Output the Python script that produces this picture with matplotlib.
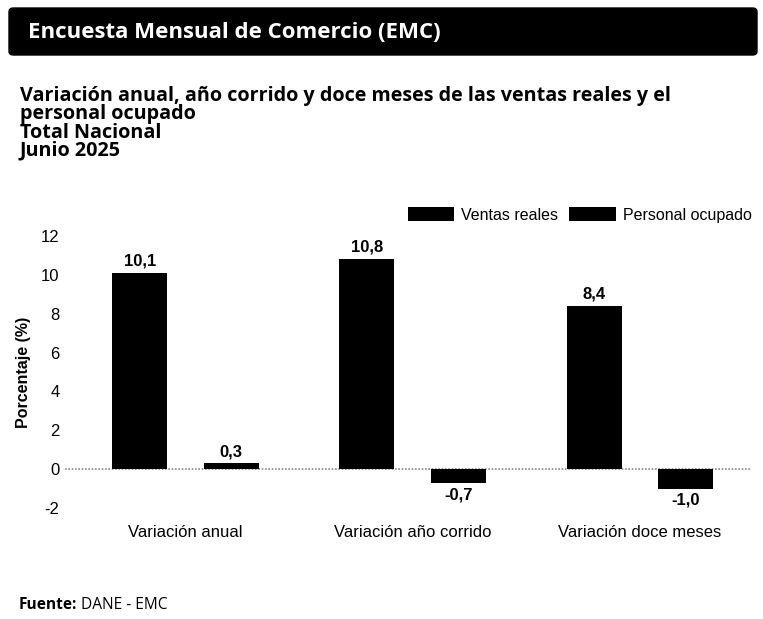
import numpy as np
import matplotlib.pyplot as plt
from matplotlib.patches import FancyBboxPatch

categorias = ["Variación anual", "Variación año corrido", "Variación doce meses"]
ventas_reales = [10.1, 10.8, 8.4]
personal_ocupado = [0.3, -0.7, -1.0]
series = ["Ventas reales", "Personal ocupado"]
yticks = [-2, 0, 2, 4, 6, 8, 10, 12]

osans = "Open Sans"
arial = "Liberation Sans"

fig = plt.figure(figsize=(7.63, 6.19), dpi=100)
W, H = 763, 619

def fx(px):
    return px / W

def fy(py):
    return 1 - py / H

def fit(t, x0, x1):
    # scale the font so the text runs from x0 to x1 (pixels)
    fig.canvas.draw()
    bb = t.get_window_extent()
    t.set_fontsize(t.get_fontsize() * (x1 - x0) / bb.width)
    return t.get_fontsize()

# header
box = FancyBboxPatch((fx(9), fy(55)), fx(748), (47 / H), boxstyle="round,pad=0,rounding_size=0.006",
                     transform=fig.transFigure, facecolor="black", edgecolor="black")
fig.patches.append(box)
tt = fig.text(fx(28), fy(32), "Encuesta Mensual de Comercio (EMC)", color="white", fontsize=16,
              fontweight="bold", family=osans, va="center", ha="left")
fit(tt, 28, 442)

sub = ["Variación anual, año corrido y doce meses de las ventas reales y el",
       "personal ocupado", "Total Nacional", "Junio 2025"]
subs = []
for i, s in enumerate(sub):
    subs.append(fig.text(fx(20), fy(96 + i * 18.3), s, fontsize=14, fontweight="bold", family=osans,
                         va="center", ha="left", color="black", linespacing=1.0))
size = fit(subs[0], 20, 675)
for t in subs[1:]:
    t.set_fontsize(size)

ax = fig.add_axes([fx(65), fy(518), fx(750 - 65), (518 - 226) / H])
x = np.arange(len(categorias))
w = 0.242
off = 0.2015
b1 = ax.bar(x - off, ventas_reales, w, color="black", label=series[0], zorder=3)
b2 = ax.bar(x + off, personal_ocupado, w, color="black", label=series[1], zorder=3)

for bars, vals in [(b1, ventas_reales), (b2, personal_ocupado)]:
    for r, v in zip(bars, vals):
        lab = f"{v:.1f}".replace(".", ",")
        if v >= 0:
            ax.annotate(lab, (r.get_x() + r.get_width() / 2, v), xytext=(0, 3), textcoords="offset points",
                        ha="center", va="bottom", fontsize=12, fontweight="bold", family=arial)
        else:
            ax.annotate(lab, (r.get_x() + r.get_width() / 2, v), xytext=(0, -3), textcoords="offset points",
                        ha="center", va="top", fontsize=12, fontweight="bold", family=arial)

ax.axhline(0, color="#888888", lw=1.2, ls=(0, (1, 1)), zorder=2)
ax.set_xlim(-0.53, 2.485)
ax.set_ylim(-2.5, 12.5)
ax.set_yticks(yticks)
ax.set_yticklabels([str(t) for t in yticks], fontsize=12, family=arial)
ax.set_xticks(x)
ax.set_xticklabels(categorias, fontsize=12, family=arial)
ax.tick_params(length=0, axis="y", pad=4)
ax.tick_params(length=0, axis="x", pad=5)
for s in ax.spines.values():
    s.set_visible(False)
ax.set_ylabel("Porcentaje (%)", fontsize=11.5, fontweight="bold", family=arial)
ax.yaxis.set_label_coords(-0.05, 0.5)

fig.legend(handles=[b1, b2], labels=series, loc="center right", bbox_to_anchor=(fx(758), fy(215)),
           ncol=2, frameon=False, handlelength=2.9, handleheight=1.0, columnspacing=0.7,
           handletextpad=0.45, borderaxespad=0, prop={"family": arial, "size": 11.5})

t1 = fig.text(fx(19), fy(605), "Fuente:", fontsize=11.2, fontweight="bold", family=osans,
              va="center", ha="left")
fig.canvas.draw()
bb = t1.get_window_extent()
fig.text(bb.x1 / W + fx(4), fy(605), "DANE - EMC", fontsize=11.2, family=osans, va="center", ha="left")

fig.savefig("out.png", dpi=100)
